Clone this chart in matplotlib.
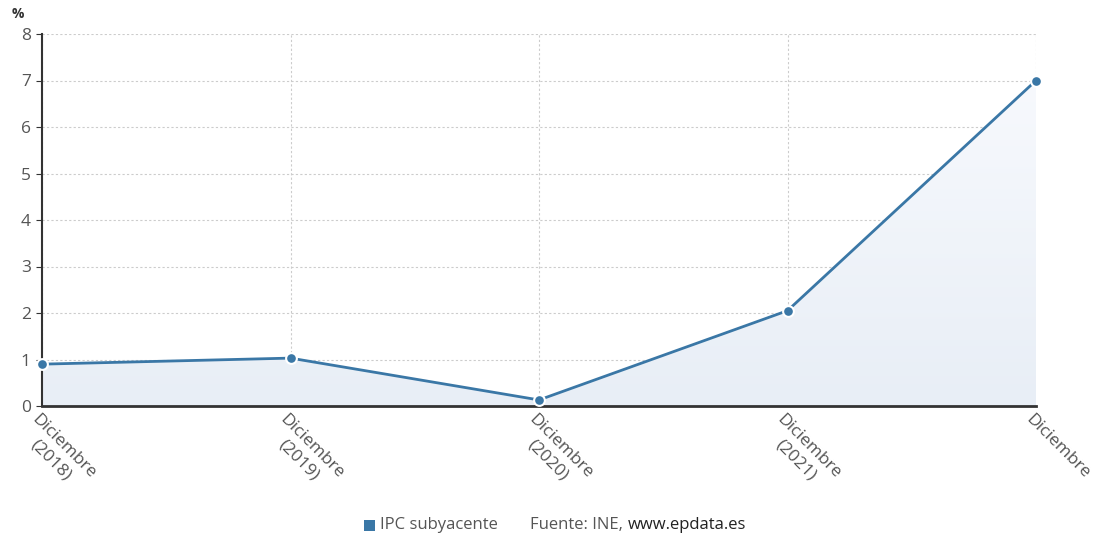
import matplotlib
matplotlib.use("Agg")
import matplotlib.pyplot as plt
import numpy as np
from matplotlib.patches import Polygon

categories = ["Diciembre\n(2018)", "Diciembre\n(2019)", "Diciembre\n(2020)", "Diciembre\n(2021)", "Diciembre"]
values = [0.9, 1.03, 0.13, 2.05, 7.0]
yticks = [0, 1, 2, 3, 4, 5, 6, 7, 8]

plt.rcParams['font.family'] = ['Open Sans', 'DejaVu Sans']

fig = plt.figure(figsize=(10.96, 5.35), dpi=100)
ax = fig.add_axes([42/1096, 1-406/535, (1036-42)/1096, (406-34)/535])

x = np.arange(len(values))
line_color = '#3a77a6'

# gradient fill under line
poly_xy = np.column_stack([np.concatenate([[x[0]], x, [x[-1]]]),
                           np.concatenate([[0], values, [0]])])
poly = Polygon(poly_xy, closed=True, facecolor='none', edgecolor='none')
ax.add_patch(poly)
grad = np.linspace(0, 1, 256).reshape(-1, 1)
c_bottom = np.array([0xe8, 0xee, 0xf6]) / 255
c_top = np.array([0xf7, 0xf9, 0xfd]) / 255
img = c_bottom[None, None, :] * (1 - grad[:, :, None]) + c_top[None, None, :] * grad[:, :, None]
im = ax.imshow(img, extent=[x[0], x[-1], 0, max(values)], origin='lower', aspect='auto', zorder=1)
im.set_clip_path(poly)

ax.plot(x, values, color=line_color, lw=2, zorder=3)
ax.scatter(x, values, s=60, color=line_color, edgecolor='white', linewidth=1.5, zorder=4, clip_on=False)

ax.set_xlim(x[0], x[-1])
ax.set_ylim(0, 8)
ax.set_yticks(yticks)
ax.set_yticklabels([str(t) for t in yticks], fontsize=12.5, color='#555555')
ax.set_xticks(x)
ax.set_xticklabels([])
for xi, lab in zip(x, categories):
    ax.text(xi - 0.01, -0.12, lab, rotation=-45, rotation_mode='anchor', ha='left', va='top',
            multialignment='center', fontsize=12.5, color='#555555', linespacing=1.2)

ax.grid(True, color='#cccccc', linestyle=(0, (2, 2)), linewidth=0.8, zorder=0)
ax.set_axisbelow(True)
for s in ['top', 'right']:
    ax.spines[s].set_visible(False)
ax.spines['left'].set_linestyle((0, (1, 1)))
ax.spines['left'].set_color('#333333')
ax.spines['left'].set_linewidth(1.5)
ax.spines['bottom'].set_linestyle((0, (2, 1)))
ax.spines['bottom'].set_color('#333333')
ax.spines['bottom'].set_linewidth(2)
ax.tick_params(axis='y', length=4, color='#333333', pad=4)
ax.tick_params(axis='x', length=0)

fig.text(12/1096, 1-14/535, '%', fontsize=10, fontweight='bold', color='#333333', ha='left', va='center')

# legend row
fig.patches.append(plt.Rectangle((364/1096, 1-531/535), 11/1096, 11/535, transform=fig.transFigure,
                                 facecolor=line_color, edgecolor='none'))
fig.text(380/1096, 1-525/535, 'IPC subyacente', fontsize=12, color='#555555', ha='left', va='center')
t1 = fig.text(530/1096, 1-525/535, 'Fuente: INE,', fontsize=12, color='#555555', ha='left', va='center')
fig.canvas.draw()
bb = t1.get_window_extent()
fig.text((bb.x1 + 5) / 1096, 1-525/535, 'www.epdata.es', fontsize=12, color='#222222', ha='left', va='center')

fig.savefig('out.png', dpi=100)
